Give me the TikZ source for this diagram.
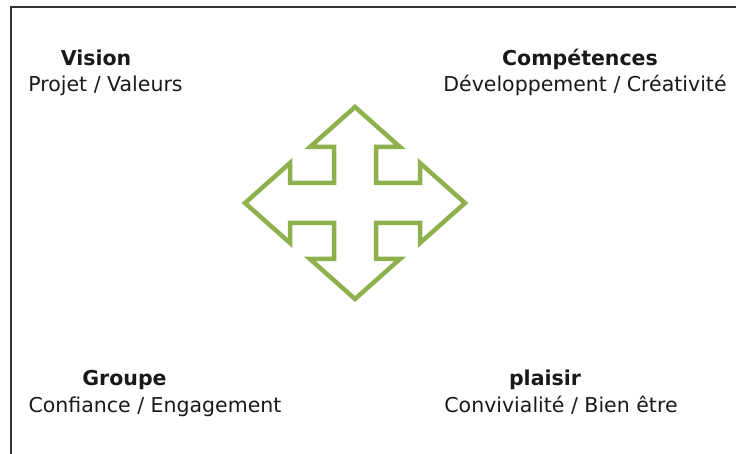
\documentclass[tikz,border=0pt]{standalone}
\usepackage{fontspec}
\setmainfont{DejaVu Sans}
\definecolor{leafgreen}{RGB}{143,177,77}
\definecolor{framegray}{RGB}{51,51,51}
\definecolor{inkgray}{RGB}{25,25,25}
\tikzset{
    heading/.style={anchor=base,inner sep=0pt,text=inkgray,
        font=\bfseries\fontsize{20.5}{24}\selectfont},
    subline/.style={anchor=base,inner sep=0pt,text=inkgray,
        font=\fontsize{20.5}{24}\selectfont},
}
\begin{document}
\begin{tikzpicture}[x=1pt,y=-1pt]
    \useasboundingbox (0,0) rectangle (736,454);

    % Frame
    \draw[framegray,line width=1.6pt]
        (11,454) -- (11,7) -- (736,7);

    % Corners top
    \node[heading] (vision) at (96,66) {Vision};
    \node[subline] (projet) at (105.5,92) {Projet / Valeurs};
    \node[heading] (competences) at (580,66) {Compétences};
    \node[subline] (developpement) at (585,92)
        {Développement / Créativité};

    % Corners bottom
    \node[heading] (groupe) at (124.5,385) {Groupe};
    \node[subline] (confiance) at (155,412)
        {Confiance / Engagement};
    \node[heading] (plaisir) at (545,385) {plaisir};
    \node[subline] (convivialite) at (561,412)
        {Convivialité / Bien être};

    % Four-way arrow
    \draw[leafgreen,line width=4.5pt,shift={(355,203)}]
        (0,-96) -- (45,-56) -- (21,-56) -- (21,-20)
        -- (65,-20) -- (65,-40) -- (110,0) -- (65,40)
        -- (65,20) -- (21,20) -- (21,56) -- (45,56)
        -- (0,96) -- (-45,56) -- (-21,56) -- (-21,20)
        -- (-65,20) -- (-65,40) -- (-110,0) -- (-65,-40)
        -- (-65,-20) -- (-21,-20) -- (-21,-56) -- (-45,-56)
        -- cycle;

\end{tikzpicture}
\end{document}
